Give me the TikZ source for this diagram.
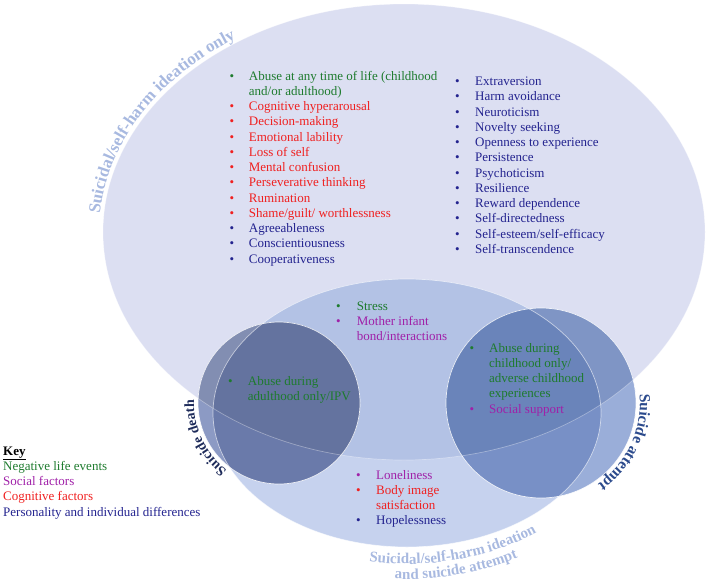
\documentclass[tikz,border=0pt]{standalone}
\usepackage{fontspec}
\setmainfont{Liberation Serif}
\usetikzlibrary{decorations.text}
\definecolor{cB}{HTML}{DCDFF2}
\definecolor{cM}{HTML}{C6D2EE}
\definecolor{cMB}{HTML}{B3C2E5}
\definecolor{cL0}{HTML}{8C9AC4}
\definecolor{cLB}{HTML}{828EB2}
\definecolor{cLM}{HTML}{6A7AAA}
\definecolor{cLBM}{HTML}{64739F}
\definecolor{cR0}{HTML}{9AAED9}
\definecolor{cRB}{HTML}{7F95C5}
\definecolor{cRM}{HTML}{7890C6}
\definecolor{cRBM}{HTML}{6A84BA}
\definecolor{cGreen}{HTML}{1E7B2E}
\definecolor{cRed}{HTML}{F02020}
\definecolor{cPurple}{HTML}{A020A8}
\definecolor{cNavy}{HTML}{23238F}
\definecolor{cLbl}{HTML}{A8B9E0}
\definecolor{cDeath}{HTML}{1E2B5A}
\definecolor{cAtt}{HTML}{2B4A8C}
\newcommand\bi[3]{\makebox[#1][l]{\color{#2}\textbullet}\textcolor{#2}{#3}\\}
\newcommand\bc[3]{\makebox[#1][l]{}\textcolor{#2}{#3}\\}
\tikzset{
  lst/.style={anchor=base west, inner sep=0pt, font=\fontsize{13}{15.25}\selectfont},
  edgeline/.style={draw=white, line width=0.7pt},
}
\begin{document}
\begin{tikzpicture}[x=1pt,y=1pt]
\useasboundingbox (0,0) rectangle (708,-581);
% big ellipse and medium ellipse
\fill[cB] (404,-232) ellipse [x radius=301, y radius=228];
\fill[cM] (407,-413) ellipse [x radius=194, y radius=134];
\begin{scope}
  \clip (404,-232) ellipse [x radius=301, y radius=228];
  \fill[cMB] (407,-413) ellipse [x radius=194, y radius=134];
\end{scope}
% left circle
\fill[cL0] (279,-403) circle [radius=81];
\begin{scope}
  \clip (404,-232) ellipse [x radius=301, y radius=228];
  \fill[cLB] (279,-403) circle [radius=81];
\end{scope}
\begin{scope}
  \clip (407,-413) ellipse [x radius=194, y radius=134];
  \fill[cLM] (279,-403) circle [radius=81];
\end{scope}
\begin{scope}
  \clip (404,-232) ellipse [x radius=301, y radius=228];
  \clip (407,-413) ellipse [x radius=194, y radius=134];
  \fill[cLBM] (279,-403) circle [radius=81];
\end{scope}
% right circle
\fill[cR0] (541,-403) circle [radius=95];
\begin{scope}
  \clip (404,-232) ellipse [x radius=301, y radius=228];
  \fill[cRB] (541,-403) circle [radius=95];
\end{scope}
\begin{scope}
  \clip (407,-413) ellipse [x radius=194, y radius=134];
  \fill[cRM] (541,-403) circle [radius=95];
\end{scope}
\begin{scope}
  \clip (404,-232) ellipse [x radius=301, y radius=228];
  \clip (407,-413) ellipse [x radius=194, y radius=134];
  \fill[cRBM] (541,-403) circle [radius=95];
\end{scope}
% outlines
\draw[edgeline, opacity=0.35] (404,-232) ellipse [x radius=301, y radius=228];
\draw[edgeline, opacity=0.6] (407,-413) ellipse [x radius=194, y radius=134];
\draw[edgeline, opacity=0.85] (279,-403) circle [radius=81];
\draw[edgeline, opacity=0.85] (541,-403) circle [radius=95];

% curved labels
\path[decorate, decoration={text along path, text align=left, text color=cLbl,
  text={|\bfseries\fontsize{17}{17}\selectfont|Suicidal/self-harm ideation only}}]
  (404,-232) ++(175.5:305 and 232) arc [start angle=175.5, end angle=95, x radius=305, y radius=232];
\path[decorate, decoration={text along path, text align=center, text color=cDeath,
  text={|\bfseries\fontsize{14}{14}\selectfont|Suicide death}}]
  (279,-403) ++(243:85) arc [start angle=243, end angle=167, radius=85];
\path[decorate, decoration={text along path, text align=center, text color=cAtt,
  text={|\bfseries\fontsize{15.5}{15.5}\selectfont|Suicide attempt}}]
  (541,-403) ++(12:99) arc [start angle=12, end angle=-62, radius=99];
\path[decorate, decoration={text along path, text align=center, text color=cLbl,
  text={|\bfseries\fontsize{15}{15}\selectfont|Suicidal/self-harm ideation}}]
  (407,-413) ++(242:211 and 151) arc [start angle=242, end angle=328, x radius=211, y radius=151];
\path[decorate, decoration={text along path, text align=center, text color=cLbl,
  text={|\bfseries\fontsize{15}{15}\selectfont|and suicide attempt}}]
  (407,-413) ++(241.5:226 and 166) arc [start angle=241.5, end angle=327.5, x radius=226, y radius=166];

% lists
\node[lst] (listA) at (229.5,-80) {\begin{tabular}[t]{@{}l@{}}
\bi{19.2pt}{cGreen}{Abuse at any time of life (childhood}
\bc{19.2pt}{cGreen}{and/or adulthood)}
\bi{19.2pt}{cRed}{Cognitive hyperarousal}
\bi{19.2pt}{cRed}{Decision-making}
\bi{19.2pt}{cRed}{Emotional lability}
\bi{19.2pt}{cRed}{Loss of self}
\bi{19.2pt}{cRed}{Mental confusion}
\bi{19.2pt}{cRed}{Perseverative thinking}
\bi{19.2pt}{cRed}{Rumination}
\bi{19.2pt}{cRed}{Shame/guilt/ worthlessness}
\bi{19.2pt}{cNavy}{Agreeableness}
\bi{19.2pt}{cNavy}{Conscientiousness}
\bi{19.2pt}{cNavy}{Cooperativeness}
\end{tabular}};
\node[lst] (listB) at (455,-85.5) {\begin{tabular}[t]{@{}l@{}}
\bi{20pt}{cNavy}{Extraversion}
\bi{20pt}{cNavy}{Harm avoidance}
\bi{20pt}{cNavy}{Neuroticism}
\bi{20pt}{cNavy}{Novelty seeking}
\bi{20pt}{cNavy}{Openness to experience}
\bi{20pt}{cNavy}{Persistence}
\bi{20pt}{cNavy}{Psychoticism}
\bi{20pt}{cNavy}{Resilience}
\bi{20pt}{cNavy}{Reward dependence}
\bi{20pt}{cNavy}{Self-directedness}
\bi{20pt}{cNavy}{Self-esteem/self-efficacy}
\bi{20pt}{cNavy}{Self-transcendence}
\end{tabular}};
\node[lst] (listC) at (336,-310) {\begin{tabular}[t]{@{}l@{}}
\bi{20.7pt}{cGreen}{Stress}
\bi{20.7pt}{cPurple}{Mother infant}
\bc{20.7pt}{cPurple}{bond/interactions}
\end{tabular}};
\node[lst] (listD) at (228,-385) {\begin{tabular}[t]{@{}l@{}}
\bi{19.7pt}{cGreen}{Abuse during}
\bc{19.7pt}{cGreen}{adulthood only/IPV}
\end{tabular}};
\node[lst] (listE) at (469.5,-352) {\begin{tabular}[t]{@{}l@{}}
\bi{19.5pt}{cGreen}{Abuse during}
\bc{19.5pt}{cGreen}{childhood only/}
\bc{19.5pt}{cGreen}{adverse childhood}
\bc{19.5pt}{cGreen}{experiences}
\bi{19.5pt}{cPurple}{Social support}
\end{tabular}};
\node[lst] (listF) at (356,-479) {\begin{tabular}[t]{@{}l@{}}
\bi{20pt}{cPurple}{Loneliness}
\bi{20pt}{cRed}{Body image}
\bc{20pt}{cRed}{satisfaction}
\bi{20pt}{cNavy}{Hopelessness}
\end{tabular}};
% key
\node[lst] (key) at (3,-455) {\begin{tabular}[t]{@{}l@{}}
\textbf{\underline{Key}}\\
\textcolor{cGreen}{Negative life events}\\
\textcolor{cPurple}{Social factors}\\
\textcolor{cRed}{Cognitive factors}\\
\textcolor{cNavy}{Personality and individual differences}\\
\end{tabular}};
\end{tikzpicture}
\end{document}
